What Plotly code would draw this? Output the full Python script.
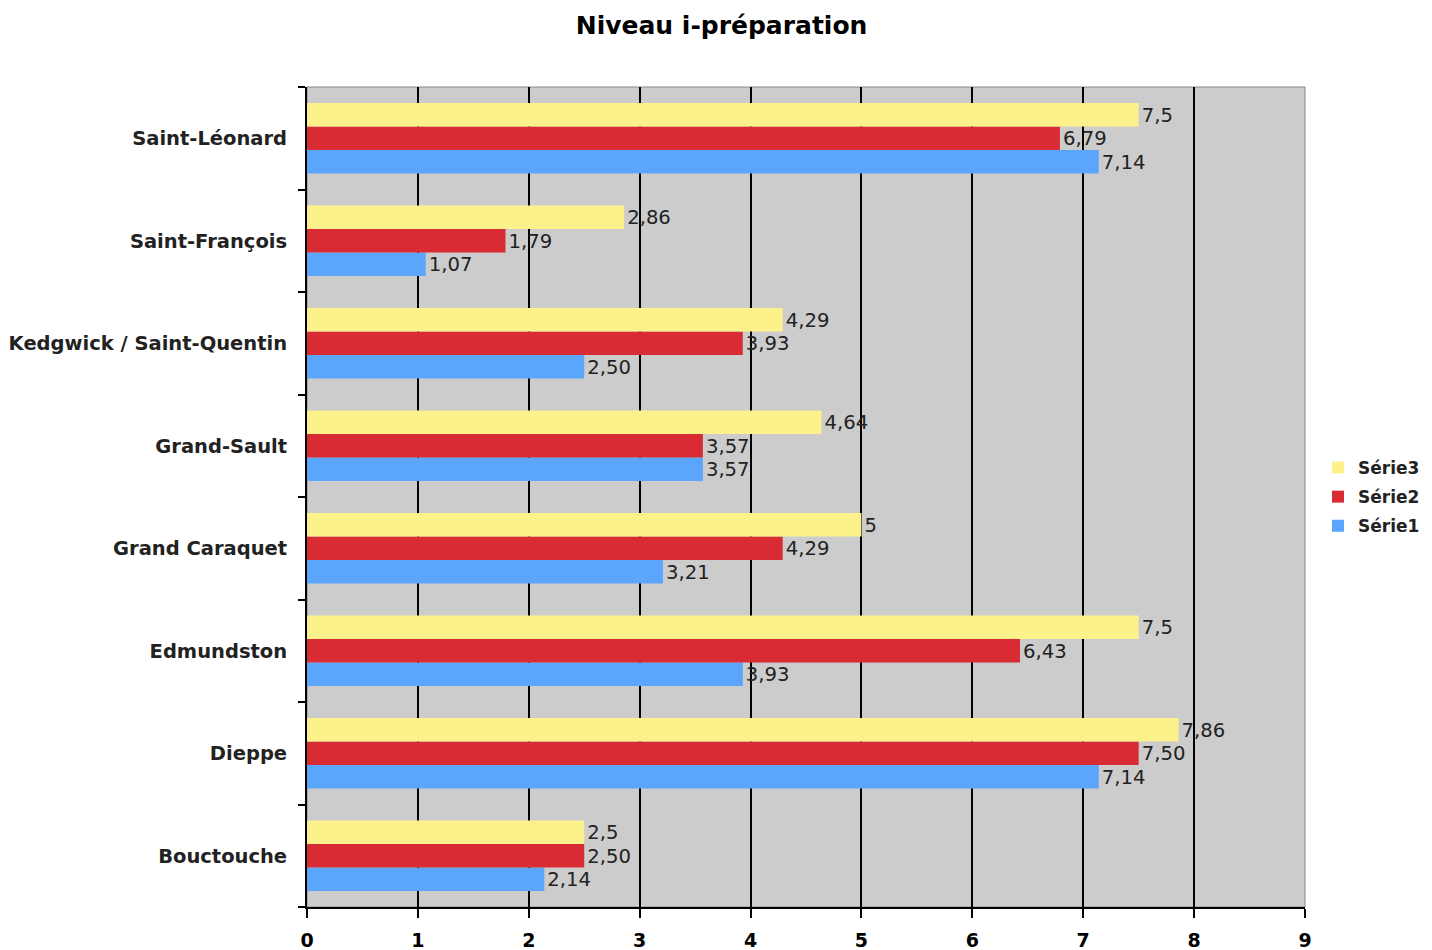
import plotly.graph_objects as go

categories = ["Bouctouche", "Dieppe", "Edmundston", "Grand Caraquet", "Grand-Sault",
              "Kedgwick / Saint-Quentin", "Saint-François", "Saint-Léonard"]
serie1 = [2.14, 7.14, 3.93, 3.21, 3.57, 2.50, 1.07, 7.14]
serie2 = [2.50, 7.50, 6.43, 4.29, 3.57, 3.93, 1.79, 6.79]
serie3 = [2.5, 7.86, 7.5, 5, 4.64, 4.29, 2.86, 7.5]
labels1 = ["2,14", "7,14", "3,93", "3,21", "3,57", "2,50", "1,07", "7,14"]
labels2 = ["2,50", "7,50", "6,43", "4,29", "3,57", "3,93", "1,79", "6,79"]
labels3 = ["2,5", "7,86", "7,5", "5", "4,64", "4,29", "2,86", "7,5"]
x_ticks = [0, 1, 2, 3, 4, 5, 6, 7, 8, 9]

font_family = "DejaVu Sans, Verdana, sans-serif"

fig = go.Figure()
for name, vals, labs, color, rank in [
    ("Série1", serie1, labels1, "#5ba5fc", 3),
    ("Série2", serie2, labels2, "#d92b33", 2),
    ("Série3", serie3, labels3, "#fdf18c", 1),
]:
    fig.add_trace(go.Bar(
        y=categories, x=vals, name=name, orientation="h", legendgroup=name, legendrank=rank,
        marker=dict(color=color, line=dict(width=0)),
        text=labs, textposition="outside", cliponaxis=False,
        textfont=dict(family=font_family, size=20, color="#222222"),
    ))

fig.update_layout(
    width=1432, height=950,
    margin=dict(l=299, r=135, t=79, b=51, autoexpand=False),
    paper_bgcolor="white", plot_bgcolor="#cccccc",
    barmode="group", bargap=0.31, bargroupgap=0,
    title=dict(text="<b>Niveau i-préparation</b>", x=0.4983, xanchor="center", y=0.982, yanchor="middle",
               font=dict(family=font_family, size=25, color="black"), automargin=False),
    font=dict(family=font_family, color="black"),
    legend=dict(xref="container", yref="container", x=1310 / 1432, y=1 - 489 / 950,
                xanchor="left", yanchor="middle", traceorder="grouped",
                font=dict(family=font_family, size=17, color="#222", weight="bold"),
                itemwidth=30, tracegroupgap=4, bgcolor="rgba(0,0,0,0)"),
    showlegend=True,
)
fig.update_xaxes(
    range=[0, 9], tickvals=x_ticks, ticktext=[str(v) for v in x_ticks],
    showgrid=True, gridcolor="black", gridwidth=2,
    showline=True, linecolor="black", linewidth=2,
    ticks="outside", ticklen=9, tickcolor="black", tickwidth=2,
    tickfont=dict(family=font_family, size=19, color="black", weight="bold"),
    ticklabelstandoff=6,
    zeroline=False, fixedrange=True, automargin=False,
)
fig.update_yaxes(
    categoryorder="array", categoryarray=categories,
    showgrid=False, showline=True, linecolor="black", linewidth=2,
    ticks="outside", tickson="boundaries", ticklen=7, tickcolor="black", tickwidth=2,
    tickfont=dict(family=font_family, size=19.5, color="#222", weight="bold"),
    ticklabelstandoff=14, automargin=False,
)
fig.add_shape(type="rect", xref="paper", yref="paper", x0=0, y0=0, x1=1, y1=1,
              line=dict(color="#888888", width=1), layer="below")

fig.write_html("out.html")
